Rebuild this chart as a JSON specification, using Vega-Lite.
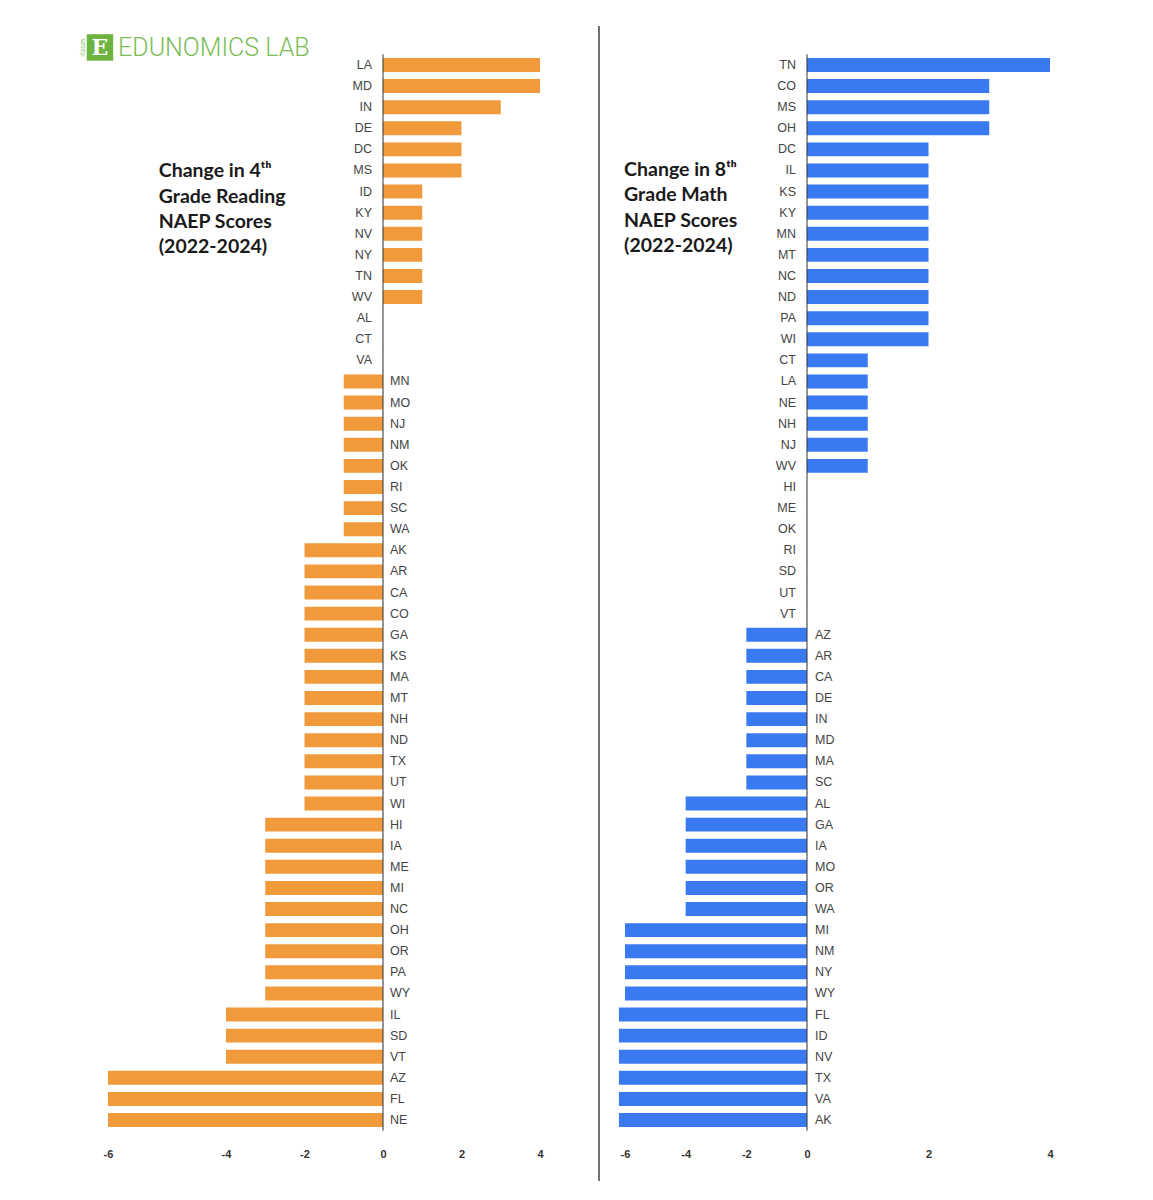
{
  "$schema": "https://vega.github.io/schema/vega-lite/v6.json",
  "background": "white",
  "padding": {"left": 80, "top": 25, "right": 0, "bottom": 0},
  "bounds": "flush",
  "spacing": 39,
  "config": {
    "view": {"stroke": null},
    "axis": {
      "domain": false,
      "ticks": false,
      "tickSize": 0,
      "grid": false,
      "labelFont": "Liberation Sans",
      "labelFontSize": 11,
      "labelFontWeight": "bold",
      "labelColor": "#333333"
    }
  },
  "datasets": {
    "reading": [
      {"state": "LA", "change": 4}, {"state": "MD", "change": 4}, {"state": "IN", "change": 3},
      {"state": "DE", "change": 2}, {"state": "DC", "change": 2}, {"state": "MS", "change": 2},
      {"state": "ID", "change": 1}, {"state": "KY", "change": 1}, {"state": "NV", "change": 1},
      {"state": "NY", "change": 1}, {"state": "TN", "change": 1}, {"state": "WV", "change": 1},
      {"state": "AL", "change": 0}, {"state": "CT", "change": 0}, {"state": "VA", "change": 0},
      {"state": "MN", "change": -1}, {"state": "MO", "change": -1}, {"state": "NJ", "change": -1},
      {"state": "NM", "change": -1}, {"state": "OK", "change": -1}, {"state": "RI", "change": -1},
      {"state": "SC", "change": -1}, {"state": "WA", "change": -1},
      {"state": "AK", "change": -2}, {"state": "AR", "change": -2}, {"state": "CA", "change": -2},
      {"state": "CO", "change": -2}, {"state": "GA", "change": -2}, {"state": "KS", "change": -2},
      {"state": "MA", "change": -2}, {"state": "MT", "change": -2}, {"state": "NH", "change": -2},
      {"state": "ND", "change": -2}, {"state": "TX", "change": -2}, {"state": "UT", "change": -2},
      {"state": "WI", "change": -2},
      {"state": "HI", "change": -3}, {"state": "IA", "change": -3}, {"state": "ME", "change": -3},
      {"state": "MI", "change": -3}, {"state": "NC", "change": -3}, {"state": "OH", "change": -3},
      {"state": "OR", "change": -3}, {"state": "PA", "change": -3}, {"state": "WY", "change": -3},
      {"state": "IL", "change": -4}, {"state": "SD", "change": -4}, {"state": "VT", "change": -4},
      {"state": "AZ", "change": -6}, {"state": "FL", "change": -6}, {"state": "NE", "change": -6}
    ],
    "math": [
      {"state": "TN", "change": 4}, {"state": "CO", "change": 3}, {"state": "MS", "change": 3},
      {"state": "OH", "change": 3}, {"state": "DC", "change": 2}, {"state": "IL", "change": 2},
      {"state": "KS", "change": 2}, {"state": "KY", "change": 2}, {"state": "MN", "change": 2},
      {"state": "MT", "change": 2}, {"state": "NC", "change": 2}, {"state": "ND", "change": 2},
      {"state": "PA", "change": 2}, {"state": "WI", "change": 2},
      {"state": "CT", "change": 1}, {"state": "LA", "change": 1}, {"state": "NE", "change": 1},
      {"state": "NH", "change": 1}, {"state": "NJ", "change": 1}, {"state": "WV", "change": 1},
      {"state": "HI", "change": 0}, {"state": "ME", "change": 0}, {"state": "OK", "change": 0},
      {"state": "RI", "change": 0}, {"state": "SD", "change": 0}, {"state": "UT", "change": 0},
      {"state": "VT", "change": 0},
      {"state": "AZ", "change": -2}, {"state": "AR", "change": -2}, {"state": "CA", "change": -2},
      {"state": "DE", "change": -2}, {"state": "IN", "change": -2}, {"state": "MD", "change": -2},
      {"state": "MA", "change": -2}, {"state": "SC", "change": -2},
      {"state": "AL", "change": -4}, {"state": "GA", "change": -4}, {"state": "IA", "change": -4},
      {"state": "MO", "change": -4}, {"state": "OR", "change": -4}, {"state": "WA", "change": -4},
      {"state": "MI", "change": -6}, {"state": "NM", "change": -6}, {"state": "NY", "change": -6},
      {"state": "WY", "change": -6},
      {"state": "FL", "change": -6.2}, {"state": "ID", "change": -6.2}, {"state": "NV", "change": -6.2},
      {"state": "TX", "change": -6.2}, {"state": "VA", "change": -6.2}, {"state": "AK", "change": -6.2}
    ]
  },
  "hconcat": [
    {
      "width": 460,
      "height": 1155,
      "data": {"name": "reading"},
      "layer": [
        {
          "mark": {"type": "bar", "color": "#F19A3B"},
          "encoding": {
            "y": {
              "field": "state",
              "type": "nominal",
              "axis": null,
              "scale": {
                "domain": ["LA","MD","IN","DE","DC","MS","ID","KY","NV","NY","TN","WV","AL","CT","VA","MN","MO","NJ","NM","OK","RI","SC","WA","AK","AR","CA","CO","GA","KS","MA","MT","NH","ND","TX","UT","WI","HI","IA","ME","MI","NC","OH","OR","PA","WY","IL","SD","VT","AZ","FL","NE"],
                "range": [32, 1101],
                "paddingInner": 0.34,
                "paddingOuter": 0
              }
            },
            "x": {
              "field": "change",
              "type": "quantitative",
              "title": null,
              "scale": {"domain": [-6, -4, 4], "range": [8, 126, 440], "nice": false, "zero": false},
              "axis": {"values": [-6, -4, -2, 0, 2, 4], "labelExpr": "'' + datum.value", "offset": -35, "labelPadding": 2, "labelFlush": false, "labelOverlap": false}
            },
            "x2": {"datum": 0}
          }
        },
        {
          "mark": {"type": "tick", "orient": "vertical", "color": "#3a3a3a", "thickness": 1.5, "size": 21.3},
          "encoding": {"x": {"datum": 0}, "y": {"field": "state", "type": "nominal"}}
        },
        {
          "transform": [{"filter": "datum.change >= 0"}],
          "mark": {"type": "text", "align": "right", "baseline": "middle", "dx": -11, "font": "Liberation Sans", "fontSize": 12.5, "color": "#444444"},
          "encoding": {"x": {"datum": 0}, "y": {"field": "state", "type": "nominal"}, "text": {"field": "state"}}
        },
        {
          "transform": [{"filter": "datum.change < 0"}],
          "mark": {"type": "text", "align": "left", "baseline": "middle", "dx": 7, "font": "Liberation Sans", "fontSize": 12.5, "color": "#444444"},
          "encoding": {"x": {"datum": 0}, "y": {"field": "state", "type": "nominal"}, "text": {"field": "state"}}
        },
        {
          "data": {"values": [{}]},
          "mark": {"type": "text", "align": "left", "baseline": "alphabetic", "dy": 7, "lineHeight": 25.3, "font": "Lato", "fontSize": 19.5, "fontWeight": "bold", "color": "#1a1a1a",
            "text": ["Change in 4ᵗʰ", "Grade Reading", "NAEP Scores", "(2022-2024)"]},
          "encoding": {"x": {"datum": -5.14}, "y": {"datum": "MS"}}
        },
        {
          "data": {"values": [{}]},
          "mark": {"type": "square", "size": 700, "color": "#6cb33f", "opacity": 1, "filled": true, "yOffset": -17.5},
          "encoding": {"x": {"datum": -6.136}, "y": {"datum": "LA"}}
        },
        {
          "data": {"values": [{}]},
          "mark": {"type": "text", "text": "E", "align": "center", "baseline": "middle", "dy": -16.5, "font": "DejaVu Serif", "fontSize": 22, "fontWeight": "bold", "color": "white"},
          "encoding": {"x": {"datum": -6.136}, "y": {"datum": "LA"}}
        },
        {
          "data": {"values": [{}]},
          "mark": {"type": "text", "text": "©2025", "align": "center", "baseline": "middle", "angle": 270, "yOffset": -17.5, "font": "Liberation Sans", "fontSize": 6, "color": "#6cb33f"},
          "encoding": {"x": {"datum": -6.42}, "y": {"datum": "LA"}}
        },
        {
          "data": {"values": [{}]},
          "mark": {"type": "text", "text": "EDUNOMICS LAB", "align": "left", "baseline": "middle", "dy": -17, "font": "Roboto", "fontSize": 25, "fontWeight": 300, "color": "#7bbd57"},
          "encoding": {"x": {"datum": -5.83}, "y": {"datum": "LA"}}
        }
      ]
    },
    {
      "width": 476,
      "height": 1155,
      "data": {"name": "math"},
      "layer": [
        {
          "mark": {"type": "bar", "color": "#3A7AF0"},
          "encoding": {
            "y": {
              "field": "state",
              "type": "nominal",
              "axis": null,
              "scale": {
                "domain": ["TN","CO","MS","OH","DC","IL","KS","KY","MN","MT","NC","ND","PA","WI","CT","LA","NE","NH","NJ","WV","HI","ME","OK","RI","SD","UT","VT","AZ","AR","CA","DE","IN","MD","MA","SC","AL","GA","IA","MO","OR","WA","MI","NM","NY","WY","FL","ID","NV","TX","VA","AK"],
                "range": [32, 1101],
                "paddingInner": 0.34,
                "paddingOuter": 0
              }
            },
            "x": {
              "field": "change",
              "type": "quantitative",
              "title": null,
              "scale": {"domain": [-6, 0, 4], "range": [26, 208, 451], "nice": false, "zero": false},
              "axis": {"values": [-6, -4, -2, 0, 2, 4], "labelExpr": "'' + datum.value", "offset": -35, "labelPadding": 2, "labelFlush": false, "labelOverlap": false}
            },
            "x2": {"datum": 0}
          }
        },
        {
          "mark": {"type": "tick", "orient": "vertical", "color": "#3a3a3a", "thickness": 1.5, "size": 21.3},
          "encoding": {"x": {"datum": 0}, "y": {"field": "state", "type": "nominal"}}
        },
        {
          "transform": [{"filter": "datum.change >= 0"}],
          "mark": {"type": "text", "align": "right", "baseline": "middle", "dx": -11, "font": "Liberation Sans", "fontSize": 12.5, "color": "#444444"},
          "encoding": {"x": {"datum": 0}, "y": {"field": "state", "type": "nominal"}, "text": {"field": "state"}}
        },
        {
          "transform": [{"filter": "datum.change < 0"}],
          "mark": {"type": "text", "align": "left", "baseline": "middle", "dx": 8, "font": "Liberation Sans", "fontSize": 12.5, "color": "#444444"},
          "encoding": {"x": {"datum": 0}, "y": {"field": "state", "type": "nominal"}, "text": {"field": "state"}}
        },
        {
          "data": {"values": [{}]},
          "mark": {"type": "rule", "color": "#444444", "strokeWidth": 1.5},
          "encoding": {"x": {"datum": -6.857}}
        },
        {
          "data": {"values": [{}]},
          "mark": {"type": "text", "align": "left", "baseline": "alphabetic", "dy": 5.5, "lineHeight": 25.3, "font": "Lato", "fontSize": 19.5, "fontWeight": "bold", "color": "#1a1a1a",
            "text": ["Change in 8ᵗʰ", "Grade Math", "NAEP Scores", "(2022-2024)"]},
          "encoding": {"x": {"datum": -6.03}, "y": {"datum": "IL"}}
        }
      ]
    }
  ]
}
